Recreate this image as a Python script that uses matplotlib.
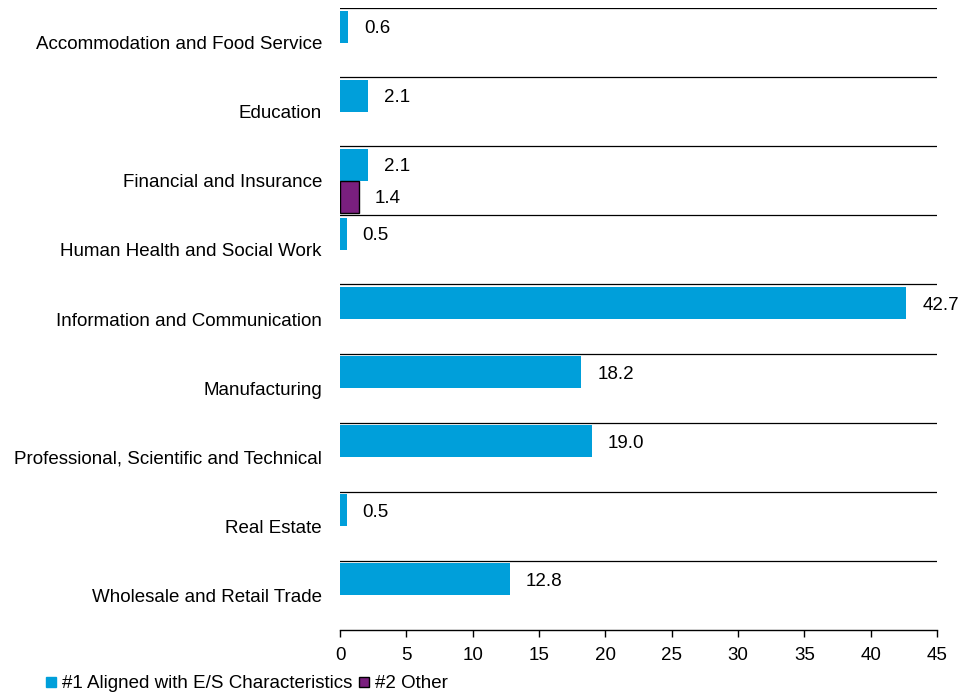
import matplotlib.pyplot as plt
from matplotlib.lines import Line2D

plt.rcParams['font.family'] = ['Liberation Sans', 'DejaVu Sans']

categories = [
    "Accommodation and Food Service",
    "Education",
    "Financial and Insurance",
    "Human Health and Social Work",
    "Information and Communication",
    "Manufacturing",
    "Professional, Scientific and Technical",
    "Real Estate",
    "Wholesale and Retail Trade",
]
aligned = [0.6, 2.1, 2.1, 0.5, 42.7, 18.2, 19.0, 0.5, 12.8]
other = [None, None, 1.4, None, None, None, None, None, None]
series_names = ["#1 Aligned with E/S Characteristics", "#2 Other"]

blue = "#009FDA"
purple = "#7A1F7E"
fs = 13.5

fig = plt.figure(figsize=(9.76, 6.98), dpi=100)
ax = fig.add_axes([340 / 976, 1 - 630 / 698, 597 / 976, 622 / 698])

h = 32 / 69
pos = list(range(len(categories)))
for i, v in enumerate(aligned):
    ax.barh(i - h / 2, v, height=h, color=blue)
    ax.text(v + 1.2, i - h / 2 + 0.03, f"{v:.1f}", va="center", ha="left", fontsize=fs, clip_on=False)
for i, v in enumerate(other):
    if v is None:
        continue
    ax.barh(i + h / 2, v, height=h, color=purple, edgecolor="black", linewidth=1)
    ax.text(v + 1.2, i + h / 2 + 0.03, f"{v:.1f}", va="center", ha="left", fontsize=fs)

# separator line above every category
for i in pos:
    ax.axhline(i - 0.5, color="black", linewidth=0.9)

ax.set_xlim(0, 45)
ax.set_ylim(len(categories) - 0.5, -0.5)
ax.set_xticks(range(0, 46, 5))
ax.set_yticks(pos)
ax.set_yticklabels(categories)
ax.tick_params(axis="y", length=0, pad=13, labelsize=fs)
ax.tick_params(axis="x", length=5, width=1, labelsize=fs, pad=7)
for s in ["top", "right", "left"]:
    ax.spines[s].set_visible(False)
ax.spines["bottom"].set_linewidth(1)

handles = [
    Line2D([], [], marker="s", linestyle="", markersize=7, markerfacecolor=blue, markeredgecolor=blue),
    Line2D([], [], marker="s", linestyle="", markersize=7, markerfacecolor=purple, markeredgecolor="black"),
]
fig.legend(handles, series_names, loc="lower left", bbox_to_anchor=(0.035, -0.008), ncol=2,
           frameon=False, fontsize=fs, handlelength=0.6, handletextpad=0.3, columnspacing=0.3,
           borderaxespad=0.2)

fig.savefig("out.png", dpi=100)
